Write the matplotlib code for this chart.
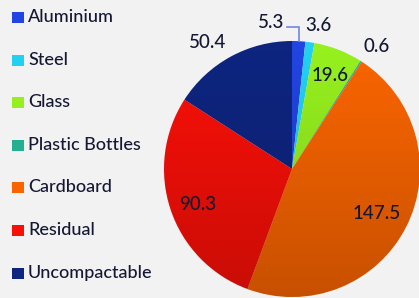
import numpy as np
import matplotlib
matplotlib.use("Agg")
import matplotlib.pyplot as plt
from matplotlib.patches import Rectangle, Circle

categories = ["Aluminium", "Steel", "Glass", "Plastic Bottles", "Cardboard", "Residual", "Uncompactable"]
values = [5.3, 3.6, 19.6, 0.6, 147.5, 90.3, 50.4]
value_labels = ["5.3", "3.6", "19.6", "0.6", "147.5", "90.3", "50.4"]

colors = ["#2244e0", "#22d0f2", "#96f01e", "#22b090", "#f86400", "#f81008", "#0e2580"]
# label placement (style): radial distance factor, angle tweak in degrees
label_dist = [None, 1.14, 0.79, 1.16, 0.75, 0.79, 1.19]
label_dang = [0, -2.5, -1, -2, -1, 2, 5]

W, H = 419, 298
fig = plt.figure(figsize=(W / 100, H / 100), dpi=100)
fig.patch.set_facecolor("#f2f2f2")
ax = fig.add_axes([0, 0, 1, 1])
ax.set_facecolor("#f2f2f2")

font = "Lato"
fw = 500
txtcol = "#141833"
cx, cy, R = 292, 129, 128

wedges, _ = ax.pie(values, colors=colors, startangle=90, counterclock=False,
                   center=(cx, cy), radius=R, frame=True,
                   wedgeprops=dict(linewidth=0))
ax.set_xlim(0, W)
ax.set_ylim(0, H)
ax.set_aspect("equal")
ax.axis("off")

# vertical shading gradient over pie
grad = np.linspace(0, 1, 256).reshape(-1, 1)
rgba = np.zeros((256, 1, 4))
rgba[..., 3] = 0.2 * grad[:, :] ** 1.2
im = ax.imshow(rgba, extent=(cx - R, cx + R, cy - R, cy + R), origin="upper",
               aspect="auto", zorder=3, interpolation="bilinear")
clip = Circle((cx, cy), R, transform=ax.transData)
im.set_clip_path(clip)

# value labels
total = sum(values)
cum = 0
for i, (v, lab) in enumerate(zip(values, value_labels)):
    mid = 90 - 360 * (cum + v / 2) / total
    cum += v
    if label_dist[i] is None:
        a = np.deg2rad(mid)
        px, py = cx + R * np.cos(a), cy + R * np.sin(a)
        ey = 271
        ax.plot([287, px, px], [ey, ey, py], color="#6f86e6", lw=1.2, zorder=4,
                solid_joinstyle="miter")
        ax.text(284, 276, lab, ha="right", va="center", fontsize=13.5,
                family=font, weight=fw, color=txtcol, zorder=5)
        continue
    a = np.deg2rad(mid + label_dang[i])
    d = label_dist[i] * R
    ax.text(cx + d * np.cos(a), cy + d * np.sin(a), lab, ha="center", va="center",
            fontsize=13.5, family=font, weight=fw, color=txtcol, zorder=5)

# legend
rows_y = [281, 238, 196, 153, 111, 68, 25]
for cat, col, y in zip(categories, colors, rows_y):
    ax.add_patch(Rectangle((12, y - 5.5), 12, 11, facecolor=col, edgecolor="none", zorder=5))
    ax.text(28, y, cat, ha="left", va="center", fontsize=13, family=font, weight=fw,
            color=txtcol, zorder=5)

fig.savefig("out.png", dpi=100, facecolor=fig.get_facecolor())
